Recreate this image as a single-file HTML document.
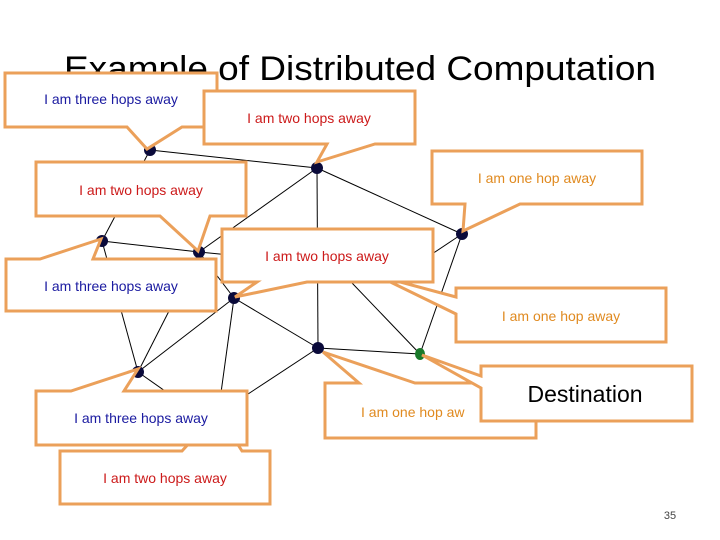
<!DOCTYPE html>
<html><head><meta charset="utf-8"><style>
html,body{margin:0;padding:0;background:#fff;}
svg{display:block;}
text{font-family:"Liberation Sans",sans-serif;}
</style></head><body>
<svg width="720" height="540" viewBox="0 0 720 540" xmlns="http://www.w3.org/2000/svg">
<rect width="720" height="540" fill="#fff"/>
<text x="360" y="80" font-size="34" text-anchor="middle" textLength="592" lengthAdjust="spacingAndGlyphs" fill="#000">Example of Distributed Computation</text>
<g stroke="#000" stroke-width="1" fill="none">
<line x1="150" y1="150" x2="317" y2="168"/>
<line x1="150" y1="150" x2="102" y2="241"/>
<line x1="317" y1="168" x2="199" y2="252"/>
<line x1="317" y1="168" x2="462" y2="234"/>
<line x1="317" y1="168" x2="318" y2="348"/>
<line x1="462" y1="234" x2="420" y2="262"/>
<line x1="462" y1="234" x2="420" y2="354"/>
<line x1="102" y1="241" x2="199" y2="252"/>
<line x1="102" y1="241" x2="138" y2="372"/>
<line x1="199" y1="252" x2="234" y2="298"/>
<line x1="199" y1="252" x2="138" y2="372"/>
<line x1="199" y1="252" x2="240" y2="256"/>
<line x1="234" y1="298" x2="138" y2="372"/>
<line x1="234" y1="298" x2="318" y2="348"/>
<line x1="234" y1="298" x2="220" y2="400"/>
<line x1="318" y1="348" x2="420" y2="354"/>
<line x1="318" y1="348" x2="245" y2="396"/>
<line x1="330" y1="260" x2="420" y2="354"/>
<line x1="138" y1="372" x2="175" y2="398"/>
</g>
<g fill="#0a0a3a">
<circle cx="150" cy="150" r="6"/><circle cx="317" cy="168" r="6"/><circle cx="462" cy="234" r="6"/>
<circle cx="102" cy="241" r="6"/><circle cx="199" cy="252" r="6"/><circle cx="234" cy="298" r="6"/>
<circle cx="318" cy="348" r="6"/><circle cx="138" cy="372" r="6"/>
</g>
<ellipse cx="420" cy="354" rx="5" ry="6" fill="#1a7a2a"/>
<g stroke="#eba05a" stroke-width="3" fill="#fff" stroke-linejoin="miter">
<!-- bottom two hops -->
<path d="M60,451 H182 L192,440 L235,440 L242,451 H270 V504 H60 Z"/>
<!-- bottom three hops -->
<path d="M36,391 H71 L138,369 L124,391 H247 V445 H36 Z"/>
<!-- middle-left three hops -->
<path d="M6,259 H40 L101,239 L93,259 H216 V311 H6 Z"/>
<!-- left two hops -->
<path d="M36,162 H246 V216 H210 L198,251 L160,216 H36 Z"/>
<!-- top three hops -->
<path d="M5,73 H217 V127 H182 L147,149 L127,127 H5 Z"/>
<!-- top two hops -->
<path d="M204,91 H415 V144 H375 L317,162 L327,144 H204 Z"/>
<!-- top one hop -->
<path d="M432,151 H642 V204 H520 L463,231 L465,204 H432 Z"/>
<!-- right one hop -->
<path d="M456,288 H666 V342 H456 V314 L378,276 L456,297 Z"/>
<!-- middle two hops -->
<path d="M222,229 H433 V282 H307 L235,297 L257,282 H222 Z"/>
<!-- lower one hop -->
<path d="M325,383 H359 L323,352 L415,383 H536 V438 H325 Z"/>
<!-- destination -->
<path d="M481,366 H692 V421 H481 V388 L422,355 L481,376 Z"/>
</g>
<g font-size="14">
<text x="111" y="104" text-anchor="middle" fill="#1a1aa0">I am three hops away</text>
<text x="309" y="123" text-anchor="middle" fill="#cc1a1a">I am two hops away</text>
<text x="537" y="183" text-anchor="middle" fill="#e08a20">I am one hop away</text>
<text x="141" y="195" text-anchor="middle" fill="#cc1a1a">I am two hops away</text>
<text x="327" y="261" text-anchor="middle" fill="#cc1a1a">I am two hops away</text>
<text x="111" y="291" text-anchor="middle" fill="#1a1aa0">I am three hops away</text>
<text x="561" y="321" text-anchor="middle" fill="#e08a20">I am one hop away</text>
<text x="141" y="423" text-anchor="middle" fill="#1a1aa0">I am three hops away</text>
<text x="165" y="483" text-anchor="middle" fill="#cc1a1a">I am two hops away</text>
<text x="361" y="417" fill="#e08a20">I am one hop aw</text>
</g>
<rect x="482.5" y="367.5" width="208" height="52" fill="#fff"/>
<text x="585" y="402" font-size="23" text-anchor="middle" fill="#000">Destination</text>
<text x="670" y="519" font-size="11" text-anchor="middle" fill="#444">35</text>
</svg>
</body></html>
